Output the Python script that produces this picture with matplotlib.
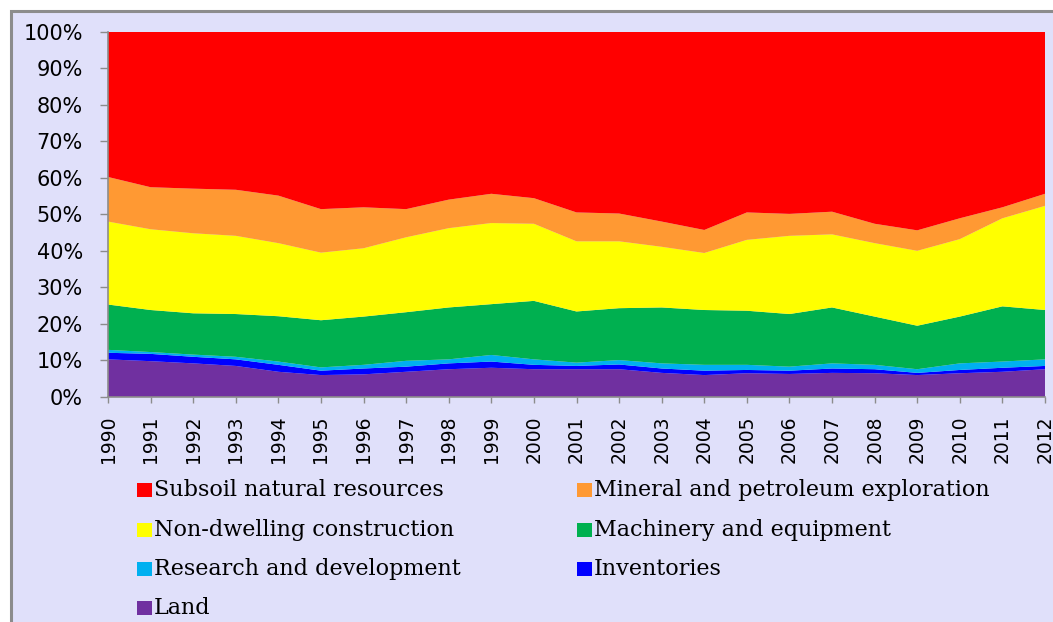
#!/usr/bin/env python3
"""Composition of asset values, 100% stacked area, 1990-2012"""

import numpy as np
import pandas as pd
import matplotlib
matplotlib.use('Agg')
import matplotlib.pyplot as plt
from matplotlib.patches import Rectangle

years = list(range(1990, 2013))

# shares of total (%)
land = [10.3, 9.8, 9.2, 8.5, 6.9, 6.0, 6.2, 6.9, 7.6, 8.0, 7.6, 7.6,
        7.6, 6.6, 6.0, 6.5, 6.3, 6.6, 6.5, 6.0, 6.5, 6.9, 7.6]
inventories = [1.8, 2.0, 1.8, 1.8, 1.9, 1.2, 1.6, 1.4, 1.6, 1.7, 1.2, 0.9,
               1.3, 1.2, 1.2, 0.9, 0.9, 1.2, 1.1, 0.6, 0.9, 1.1, 0.9]
research = [0.8, 0.5, 0.6, 0.7, 0.9, 0.9, 1.0, 1.6, 1.1, 1.8, 1.5, 0.9,
            1.2, 1.4, 1.6, 1.4, 1.1, 1.4, 1.2, 1.0, 1.8, 1.7, 1.8]
machinery = [12.4, 11.5, 11.3, 11.7, 12.4, 12.9, 13.2, 13.3, 14.2, 13.9, 16.0, 14.0,
             14.2, 15.3, 15.0, 14.8, 14.4, 15.3, 13.2, 11.9, 12.8, 15.1, 13.5]
construction = [22.7, 22.1, 21.9, 21.4, 20.0, 18.5, 18.7, 20.5, 21.7, 22.2, 21.1, 19.2,
                18.3, 16.6, 15.6, 19.4, 21.4, 20.0, 20.1, 20.5, 21.2, 24.1, 28.5]
mineral = [12.2, 11.5, 12.2, 12.6, 13.0, 11.9, 11.2, 7.7, 7.8, 8.0, 7.0, 7.9,
           7.6, 6.9, 6.3, 7.5, 6.0, 6.2, 5.3, 5.6, 5.7, 3.0, 3.3]
subsoil = [39.8, 42.6, 43.0, 43.3, 44.9, 48.6, 48.1, 48.6, 46.0, 44.4, 45.6, 49.5,
           49.8, 52.0, 54.3, 49.5, 49.9, 49.3, 52.6, 54.4, 51.1, 48.1, 44.4]

series_names = ['Land', 'Inventories', 'Research and development',
                'Machinery and equipment', 'Non-dwelling construction',
                'Mineral and petroleum exploration', 'Subsoil natural resources']
colors = ['#7030A0', '#0000FF', '#00B0F0', '#00B050', '#FFFF00', '#FF9933', '#FF0000']

# legend reading order (row by row, two columns)
legend_order = ['Subsoil natural resources', 'Mineral and petroleum exploration',
                'Non-dwelling construction', 'Machinery and equipment',
                'Research and development', 'Inventories', 'Land']

BG = '#E0E0FA'
GREY = '#8C8C8C'


def main():
    df = pd.DataFrame(dict(zip(series_names,
                               [land, inventories, research, machinery,
                                construction, mineral, subsoil])), index=years)
    shares = df.div(df.sum(axis=1), axis=0) * 100

    W, H = 1053, 622
    fig = plt.figure(figsize=(W / 100, H / 100), dpi=100, facecolor='white')

    # lavender chart frame with grey border (cropped on right/bottom)
    fig.patches.append(Rectangle((11 / W, -0.2), 1.2, 1.2 - 11 / H,
                                 transform=fig.transFigure, facecolor=BG,
                                 edgecolor=GREY, linewidth=2.2, zorder=-5))

    ax = fig.add_axes([108 / W, 1 - 397 / H, (1045 - 108) / W, (397 - 31.5) / H])
    ax.set_zorder(2)
    ax.set_facecolor(BG)
    ax.stackplot(shares.index, [shares[c] for c in series_names],
                 colors=colors, linewidth=0)

    ax.set_xlim(years[0], years[-1])
    ax.set_ylim(0, 100)
    ax.set_xticks(years)
    ax.set_xticklabels([str(y) for y in years], rotation=90, fontsize=13.5,
                       family='DejaVu Sans')
    ax.set_yticks(np.arange(0, 101, 10))
    ax.set_yticklabels([f'{v}%' for v in range(0, 101, 10)], fontsize=15,
                       family='DejaVu Sans')
    ax.tick_params(axis='x', length=4.5, width=1, color=GREY, pad=9)
    ax.tick_params(axis='y', length=6, width=1, color=GREY, pad=12)
    for s in ['top', 'right']:
        ax.spines[s].set_visible(False)
    for s in ['left', 'bottom']:
        ax.spines[s].set_color(GREY)
        ax.spines[s].set_linewidth(1.2)

    # legend, two columns
    col_x = [137, 577]
    row_y = [490, 530, 569, 608]
    color_of = dict(zip(series_names, colors))
    for i, name in enumerate(legend_order):
        x0 = col_x[i % 2]
        yc = row_y[i // 2]
        fig.patches.append(Rectangle((x0 / W, 1 - (yc + 7) / H), 15 / W, 14 / H,
                                     transform=fig.transFigure,
                                     facecolor=color_of[name], edgecolor='none'))
        fig.text((x0 + 17) / W, 1 - yc / H, name, fontsize=16,
                 family='DejaVu Serif', va='center', ha='left')

    fig.savefig('out.png', dpi=100, facecolor=fig.get_facecolor())
    plt.close(fig)


if __name__ == '__main__':
    main()
